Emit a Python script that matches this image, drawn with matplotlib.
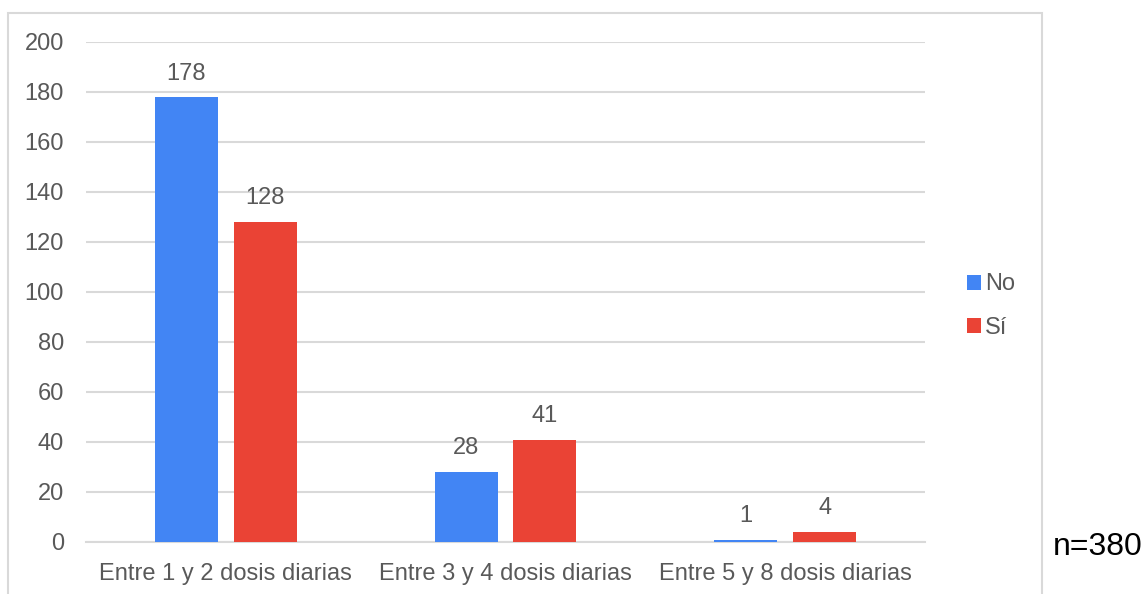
"""Dosis diarias: No / Sí, gráfico de barras agrupadas."""

import matplotlib

matplotlib.use("Agg")
import matplotlib.pyplot as plt
import numpy as np
from matplotlib.patches import Rectangle

categorias = ["Entre 1 y 2 dosis diarias", "Entre 3 y 4 dosis diarias", "Entre 5 y 8 dosis diarias"]
valores_no = [178, 28, 1]
valores_si = [128, 41, 4]
series = ["No", "Sí"]
n_total = 380

AZUL = "#4285F4"
ROJO = "#EA4335"
GRIS_TXT = "#595959"
GRIS_LINEA = "#D9D9D9"

plt.rcParams["font.family"] = ["Liberation Sans", "DejaVu Sans"]

fig = plt.figure(figsize=(11.45, 5.94), dpi=100)
ax = fig.add_axes([86 / 1145, 52 / 594, 839 / 1145, 500 / 594])

x = np.arange(len(categorias))
ancho = 0.225
desp = 0.141
b1 = ax.bar(x - desp, valores_no, ancho, color=AZUL, label=series[0], zorder=3)
b2 = ax.bar(x + desp, valores_si, ancho, color=ROJO, label=series[1], zorder=3)
for barras in (b1, b2):
    ax.bar_label(barras, padding=9, fontsize=17, color=GRIS_TXT)

ax.set_xlim(-0.5, len(categorias) - 0.5)
ax.set_ylim(0, 200)
ax.set_yticks(range(0, 201, 20))
ax.set_xticks(x)
ax.set_xticklabels(categorias)
ax.grid(axis="y", color=GRIS_LINEA, linewidth=1.5, zorder=0)
ax.tick_params(axis="both", length=0, labelsize=17, colors=GRIS_TXT)
ax.tick_params(axis="y", pad=16)
ax.tick_params(axis="x", pad=15)
for lado in ("top", "right", "left"):
    ax.spines[lado].set_visible(False)
ax.spines["bottom"].set_color(GRIS_LINEA)
ax.spines["bottom"].set_linewidth(1.5)

ax.legend(
    loc="center left",
    bbox_to_anchor=(946 / 1145, 1 - 306 / 594),
    bbox_transform=fig.transFigure,
    frameon=False,
    fontsize=17,
    labelcolor=GRIS_TXT,
    handlelength=0.6,
    handleheight=0.6,
    handletextpad=0.15,
    labelspacing=0.9,
)

# marco del gráfico
fig.patches.append(
    Rectangle((8 / 1145, -0.05), 1034 / 1145, 1.05 - 13 / 594,
              transform=fig.transFigure, fill=False, edgecolor=GRIS_LINEA, linewidth=1.5)
)
fig.text(1053 / 1145, 1 - 547 / 594, f"n={n_total}", fontsize=23, color="black", va="center", ha="left")

fig.savefig("out.png", dpi=100)
